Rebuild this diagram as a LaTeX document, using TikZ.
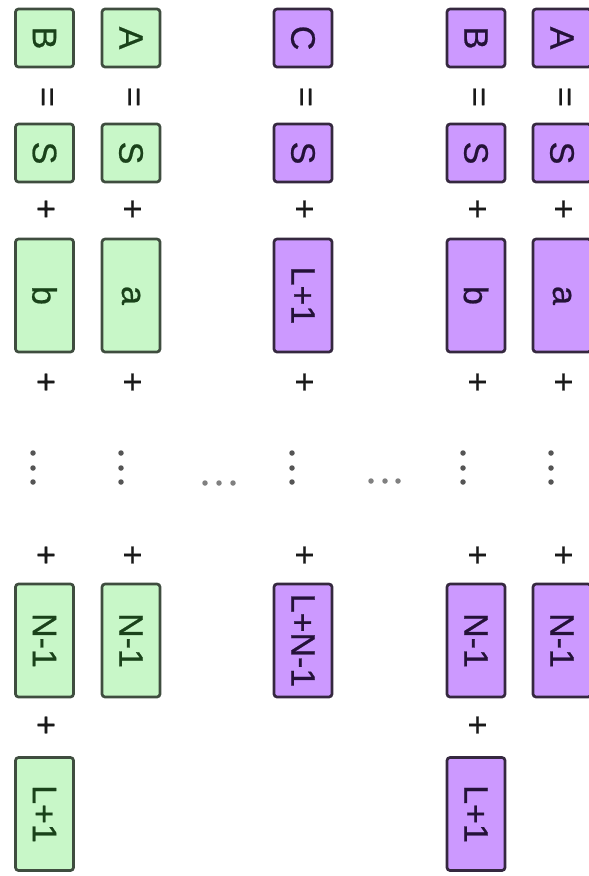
\documentclass[tikz,border=0pt]{standalone}
\usepackage{fontspec}
\setmainfont{Liberation Sans}
\newfontfamily\cellfont[FakeBold=0.6]{Liberation Sans}
\definecolor{gfill}{HTML}{C8F7C8}
\definecolor{gdraw}{HTML}{3F4D3F}
\definecolor{gtext}{HTML}{1A421A}
\definecolor{pfill}{HTML}{CC99FF}
\definecolor{pdraw}{HTML}{35283F}
\definecolor{ptext}{HTML}{241238}
\definecolor{dotc}{HTML}{555555}
\tikzset{
  cell/.style={rotate=-90, rounded corners=3pt, line width=2.7pt, inner sep=0pt,
    font=\cellfont\fontsize{34}{34}\selectfont},
  gcell/.style={cell, draw=gdraw, fill=gfill, text=gtext},
  pcell/.style={cell, draw=pdraw, fill=pfill, text=ptext},
  sq/.style={minimum width=58pt, minimum height=58pt},
  lg/.style={minimum width=113pt, minimum height=58pt},
  op/.style={rotate=-90, inner sep=0pt, font=\cellfont\fontsize{34}{34}\selectfont, text=black!90},
  dotnode/.style={circle, fill=dotc, inner sep=0pt, minimum size=5.5pt},
  hdot/.style={circle, fill=dotc!75, inner sep=0pt, minimum size=5.5pt},
}
\begin{document}
\begin{tikzpicture}[x=1pt,y=-1pt]
\useasboundingbox (0,0) rectangle (589,876);
\clip (0,0) rectangle (589,876);
% column x positions
\def\xa{44.5}\def\xb{131}\def\xc{303}\def\xd{476}\def\xe{562}
% green column B
\node[gcell,sq] (gBtop) at (\xa,38) {B};
\node[op] (gBeq) at (\xa,97) {=};
\node[gcell,sq] (gBS) at (\xa,153) {S};
\node[op] (gBp1) at (\xa,209) {+};
\node[gcell,lg] (gBb) at (\xa,295.5) {b};
\node[op] (gBp2) at (\xa,382) {+};
\node[dotnode] (gBd1) at (33,453) {};
\node[dotnode] (gBd2) at (33,468) {};
\node[dotnode] (gBd3) at (33,482) {};
\node[op] (gBp3) at (\xa,555) {+};
\node[gcell,lg] (gBN) at (\xa,640.5) {N-1};
\node[op] (gBp4) at (\xa,725) {+};
\node[gcell,lg] (gBL) at (\xa,814) {L+1};
% green column A
\node[gcell,sq] (gAtop) at (\xb,38) {A};
\node[op] (gAeq) at (\xb,97) {=};
\node[gcell,sq] (gAS) at (\xb,153) {S};
\node[op] (gAp1) at (\xb,209) {+};
\node[gcell,lg] (gAa) at (\xb,295.5) {a};
\node[op] (gAp2) at (\xb,382) {+};
\node[dotnode] (gAd1) at (121,453) {};
\node[dotnode] (gAd2) at (121,468) {};
\node[dotnode] (gAd3) at (121,482) {};
\node[op] (gAp3) at (\xb,555) {+};
\node[gcell,lg] (gAN) at (\xb,640.5) {N-1};
% horizontal dots
\node[hdot] (h1) at (205,483) {};
\node[hdot] (h2) at (219,483) {};
\node[hdot] (h3) at (233,483) {};
\node[hdot] (h4) at (371,481) {};
\node[hdot] (h5) at (385,481) {};
\node[hdot] (h6) at (398,481) {};
% purple column C
\node[pcell,sq] (pCtop) at (\xc,38) {C};
\node[op] (pCeq) at (\xc,97) {=};
\node[pcell,sq] (pCS) at (\xc,153) {S};
\node[op] (pCp1) at (\xc,209) {+};
\node[pcell,lg] (pCL) at (\xc,295.5) {L+1};
\node[op] (pCp2) at (\xc,382) {+};
\node[dotnode] (pCd1) at (292,453) {};
\node[dotnode] (pCd2) at (292,468) {};
\node[dotnode] (pCd3) at (292,482) {};
\node[op] (pCp3) at (\xc,555) {+};
\node[pcell,lg] (pCN) at (\xc,640.5) {L+N-1};
% purple column B
\node[pcell,sq] (pBtop) at (\xd,38) {B};
\node[op] (pBeq) at (\xd,97) {=};
\node[pcell,sq] (pBS) at (\xd,153) {S};
\node[op] (pBp1) at (\xd,209) {+};
\node[pcell,lg] (pBb) at (\xd,295.5) {b};
\node[op] (pBp2) at (\xd,382) {+};
\node[dotnode] (pBd1) at (463,453) {};
\node[dotnode] (pBd2) at (463,468) {};
\node[dotnode] (pBd3) at (463,482) {};
\node[op] (pBp3) at (\xd,555) {+};
\node[pcell,lg] (pBN) at (\xd,640.5) {N-1};
\node[op] (pBp4) at (\xd,725) {+};
\node[pcell,lg] (pBL) at (\xd,814) {L+1};
% purple column A
\node[pcell,sq] (pAtop) at (\xe,38) {A};
\node[op] (pAeq) at (\xe,97) {=};
\node[pcell,sq] (pAS) at (\xe,153) {S};
\node[op] (pAp1) at (\xe,209) {+};
\node[pcell,lg] (pAa) at (\xe,295.5) {a};
\node[op] (pAp2) at (\xe,382) {+};
\node[dotnode] (pAd1) at (551,453) {};
\node[dotnode] (pAd2) at (551,468) {};
\node[dotnode] (pAd3) at (551,482) {};
\node[op] (pAp3) at (\xe,555) {+};
\node[pcell,lg] (pAN) at (\xe,640.5) {N-1};
\end{tikzpicture}
\end{document}
